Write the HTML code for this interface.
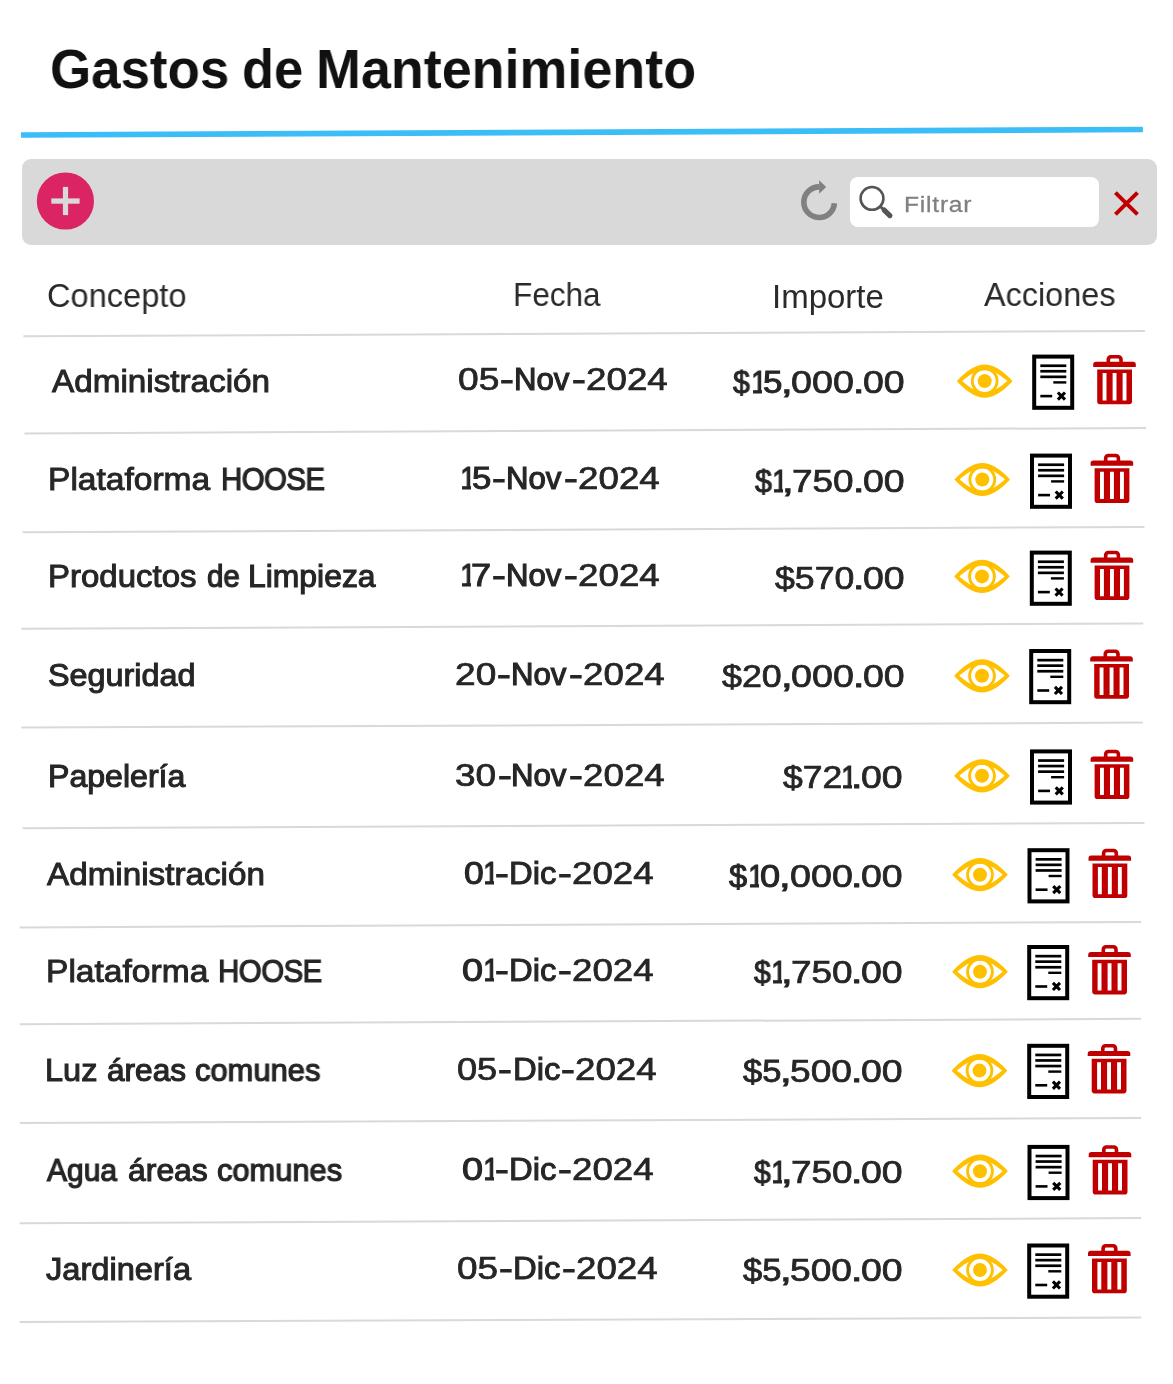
<!DOCTYPE html>
<html lang="es"><head><meta charset="utf-8"><title>Gastos de Mantenimiento</title>
<style>
html,body{margin:0;padding:0;background:#fff;}
body{width:1173px;height:1384px;position:relative;overflow:hidden;font-family:"Liberation Sans",sans-serif;}
h1{margin:0;font-size:inherit;font-weight:inherit;}
.t{position:absolute;display:block;white-space:nowrap;line-height:1;transform-origin:0 0;color:#262626;will-change:transform;}
.ttl{font-weight:700;color:#111;}
.hd{color:#2a2a2a;}
.rw,.dg{-webkit-text-stroke:1px #262626;}
.ph{color:#808080;-webkit-text-stroke:0.3px #808080;}
#bar{position:absolute;left:22.3px;top:159px;width:1135px;height:86px;background:#d9d9d9;border-radius:9px;}
#srch{position:absolute;left:849.5px;top:177.2px;width:249.6px;height:49.7px;background:#fff;border-radius:8px;}
svg.layer{position:absolute;left:0;top:0;pointer-events:none;}
</style></head><body>
<header><h1><span class="t ttl" style="left:49.88px;top:40.60px;font-size:56.0px;transform:scaleX(0.9441);">Gastos</span> <span class="t ttl" style="left:242.20px;top:40.60px;font-size:56.0px;transform:scaleX(0.9355);">de</span> <span class="t ttl" style="left:315.89px;top:40.60px;font-size:56.0px;transform:scaleX(0.9619);">Mantenimiento</span></h1>
<svg class="layer" width="1173" height="1384" viewBox="0 0 1173 1384"><line x1="21" y1="135" x2="1142.9" y2="129.5" stroke="#3BBEF7" stroke-width="5.6"/></svg>
</header>
<div class="toolbar"><div id="bar"></div><div id="srch"></div>
<svg class="layer" width="1173" height="1384" viewBox="0 0 1173 1384">
<g class="btn-agregar"><circle cx="65.4" cy="201" r="28.6" fill="#DB2463"/>
<rect x="51.3" y="198.4" width="28.3" height="5.3" fill="#d9d9d9"/><rect x="62.9" y="186.9" width="5.2" height="28.2" fill="#d9d9d9"/></g>
<g class="btn-recargar"><path d="M834.4,203.2 A15.3,15.3 0 1 1 819.1,186.9" fill="none" stroke="#808080" stroke-width="5.6"/>
<path d="M819.1,180.2 L826.2,187 L819.1,193.7 Z" fill="#808080"/></g>
<g class="ico-buscar"><circle cx="872" cy="198.4" r="11.4" fill="none" stroke="#555" stroke-width="2.6"/>
<path d="M880,206.2 L884,210" stroke="#555" stroke-width="2.8"/>
<path d="M884.2,210.1 L889.9,215.6" stroke="#555" stroke-width="5.2" stroke-linecap="round"/></g>
<g class="btn-limpiar"><path d="M1115.4,192.6 L1137.5,214.4 M1137.5,192.6 L1115.4,214.4" stroke="#C00000" stroke-width="4" fill="none"/></g>
</svg>
<span class="t ph" style="left:903.60px;top:193.69px;font-size:22.4px;transform:scaleX(1.1000);letter-spacing:0.692px;">Filtrar</span></div>
<div class="table">
<div class="thead"><div class="cell"><span class="t hd" style="left:47.10px;top:279.27px;font-size:33.0px;transform:scaleX(0.9873);">Concepto</span></div><div class="cell"><span class="t hd" style="left:513.37px;top:278.47px;font-size:33.0px;transform:scaleX(0.9551);">Fecha</span></div><div class="cell"><span class="t hd" style="left:772.11px;top:279.87px;font-size:33.0px;transform:scaleX(0.9956);">Importe</span></div><div class="cell"><span class="t hd" style="left:983.88px;top:277.97px;font-size:33.0px;transform:scaleX(0.9817);">Acciones</span></div>
<svg class="layer" width="1173" height="1384" viewBox="0 0 1173 1384"><line x1="23.4" y1="336.3" x2="1145" y2="331.0" stroke="#d9d9d9" stroke-width="2"/></svg></div>
<div class="row">
<div class="cell concepto"><span class="t rw" style="left:51.57px;top:365.60px;font-size:31.6px;transform:scaleX(1.0527);-webkit-text-stroke-width:0.95px;">Administración</span></div>
<div class="cell fecha"><span class="t dg" style="left:457.93px;top:365.38px;font-size:30.8px;transform:scaleX(1.2073);-webkit-text-stroke-width:0.72px;">05</span><span class="t dg" style="left:500.18px;top:365.38px;font-size:30.8px;transform:scaleX(1.3500);-webkit-text-stroke-width:1.00px;">-</span><span class="t dg" style="left:514.07px;top:365.38px;font-size:30.8px;transform:scaleX(1.0111);-webkit-text-stroke-width:1.19px;">Nov</span><span class="t dg" style="left:571.63px;top:365.38px;font-size:30.8px;transform:scaleX(1.3500);-webkit-text-stroke-width:1.00px;">-</span><span class="t dg" style="left:585.84px;top:365.38px;font-size:30.8px;transform:scaleX(1.1938);-webkit-text-stroke-width:0.72px;">2024</span></div>
<div class="cell importe"><span class="t dg" style="left:733.32px;top:366.91px;font-size:31.0px;transform:scaleX(0.9755);-webkit-text-stroke-width:1.00px;">$</span><span class="t dg" style="left:750.63px;top:366.91px;font-size:31.0px;transform:scaleX(0.9275);clip-path:inset(0 6.12px 0 2.29px);-webkit-text-stroke-width:1.00px;">1</span><span class="t dg" style="left:762.71px;top:366.91px;font-size:31.0px;transform:scaleX(1.1264);-webkit-text-stroke-width:1.00px;">5</span><span class="t dg" style="left:780.89px;top:366.91px;font-size:31.0px;transform:scaleX(1.3500);-webkit-text-stroke-width:1.00px;">,</span><span class="t dg" style="left:791.37px;top:366.91px;font-size:31.0px;transform:scaleX(1.2147);-webkit-text-stroke-width:0.72px;">000</span><span class="t dg" style="left:852.77px;top:366.91px;font-size:31.0px;transform:scaleX(1.3161);-webkit-text-stroke-width:1.00px;">.</span><span class="t dg" style="left:862.67px;top:366.91px;font-size:31.0px;transform:scaleX(1.2087);-webkit-text-stroke-width:0.72px;">00</span></div>
<div class="cell acciones"><svg class="layer" width="1173" height="1384" viewBox="0 0 1173 1384">
<g class="ico-ver" transform="translate(984.70,381.10)" fill="#FFC000">
<path d="M-26.7,0 C-17.5,-9.8 -8.8,-15.7 0,-15.7 C8.8,-15.7 17.5,-9.8 26.7,0 C17.5,9.8 8.8,15.7 0,15.7 C-8.8,15.7 -17.5,9.8 -26.7,0 Z" stroke="#FFC000" stroke-width="1.8" stroke-linejoin="round"/>
<path d="M-22.7,0 C-17,-4.8 -9,-11.2 0,-11.2 C9,-11.2 17,-4.8 22.7,0 C17,4.8 9,11.2 0,11.2 C-9,11.2 -17,4.8 -22.7,0 Z" fill="#fff"/>
<circle cx="0" cy="0" r="12.4" fill="none" stroke="#FFC000" stroke-width="2.9"/>
<circle cx="0" cy="0" r="7"/>
</g>
<g class="ico-cancelar" transform="translate(1032.20,354.60)">
<rect x="2" y="2" width="38" height="51.2" fill="#fff" stroke="#000" stroke-width="4"/>
<rect x="8.1" y="9.8" width="26" height="2.7"/><rect x="8.1" y="15.3" width="26" height="2.7"/><rect x="8.1" y="20.9" width="26" height="2.7"/>
<rect x="21.1" y="26.6" width="13" height="2.4"/><rect x="8.1" y="40.2" width="11.9" height="2.6"/>
<path d="M25.7,37.9 L32.8,45.0 M32.8,37.9 L25.7,45.0" stroke="#000" stroke-width="3.1" fill="none"/>
</g>
<g class="ico-eliminar" transform="translate(1093.20,354.70)" fill="#C00000">
<path d="M16.9,8.5 V5.2 a1.4,1.4 0 0 1 1.4,-1.4 h6.3 a1.4,1.4 0 0 1 1.4,1.4 V8.5 h3.6 V4.6 a4.3,4.3 0 0 0 -4.3,-4.3 h-7.7 a4.3,4.3 0 0 0 -4.3,4.3 V8.5 Z"/>
<path d="M0,12.3 V9.9 a2.8,2.8 0 0 1 2.8,-2.8 H39.8 a2.8,2.8 0 0 1 2.8,2.8 V12.3 Z"/>
<path fill-rule="evenodd" d="M4,14.9 H38.8 V46.8 a2.8,2.8 0 0 1 -2.8,2.8 H6.8 a2.8,2.8 0 0 1 -2.8,-2.8 Z M9.4,18.4 V45.7 H13.3 V18.4 Z M19.4,18.4 V45.7 H23.3 V18.4 Z M29.4,18.4 V45.7 H33.3 V18.4 Z"/>
</g>
<line x1="24.5" y1="433.4" x2="1146.3" y2="428.0" stroke="#d9d9d9" stroke-width="2"/>
</svg></div>
</div>
<div class="row">
<div class="cell concepto"><span class="t rw" style="left:48.30px;top:464.40px;font-size:31.6px;transform:scaleX(1.0619);-webkit-text-stroke-width:0.92px;">Plataforma</span> <span class="t rw" style="left:221.44px;top:464.40px;font-size:31.6px;transform:scaleX(0.9300);letter-spacing:-0.556px;-webkit-text-stroke-width:1.24px;">HOOSE</span></div>
<div class="cell fecha"><span class="t dg" style="left:459.74px;top:464.08px;font-size:30.8px;transform:scaleX(0.9328);clip-path:inset(0 6.08px 0 2.28px);-webkit-text-stroke-width:1.00px;">1</span><span class="t dg" style="left:471.96px;top:464.08px;font-size:30.8px;transform:scaleX(1.1264);-webkit-text-stroke-width:1.00px;">5</span><span class="t dg" style="left:492.38px;top:464.08px;font-size:30.8px;transform:scaleX(1.3500);-webkit-text-stroke-width:1.00px;">-</span><span class="t dg" style="left:506.27px;top:464.08px;font-size:30.8px;transform:scaleX(1.0111);-webkit-text-stroke-width:1.19px;">Nov</span><span class="t dg" style="left:563.83px;top:464.08px;font-size:30.8px;transform:scaleX(1.3500);-webkit-text-stroke-width:1.00px;">-</span><span class="t dg" style="left:578.04px;top:464.08px;font-size:30.8px;transform:scaleX(1.1938);-webkit-text-stroke-width:0.72px;">2024</span></div>
<div class="cell importe"><span class="t dg" style="left:755.12px;top:466.01px;font-size:31.0px;transform:scaleX(0.9784);-webkit-text-stroke-width:1.00px;">$</span><span class="t dg" style="left:772.48px;top:466.01px;font-size:31.0px;transform:scaleX(0.9275);clip-path:inset(0 6.12px 0 2.29px);-webkit-text-stroke-width:1.00px;">1</span><span class="t dg" style="left:782.39px;top:466.01px;font-size:31.0px;transform:scaleX(1.3500);-webkit-text-stroke-width:1.00px;">,</span><span class="t dg" style="left:792.44px;top:466.01px;font-size:31.0px;transform:scaleX(1.1917);-webkit-text-stroke-width:0.72px;">750</span><span class="t dg" style="left:852.67px;top:466.01px;font-size:31.0px;transform:scaleX(1.3161);-webkit-text-stroke-width:1.00px;">.</span><span class="t dg" style="left:862.57px;top:466.01px;font-size:31.0px;transform:scaleX(1.2087);-webkit-text-stroke-width:0.72px;">00</span></div>
<div class="cell acciones"><svg class="layer" width="1173" height="1384" viewBox="0 0 1173 1384">
<g class="ico-ver" transform="translate(982.30,479.50)" fill="#FFC000">
<path d="M-26.7,0 C-17.5,-9.8 -8.8,-15.7 0,-15.7 C8.8,-15.7 17.5,-9.8 26.7,0 C17.5,9.8 8.8,15.7 0,15.7 C-8.8,15.7 -17.5,9.8 -26.7,0 Z" stroke="#FFC000" stroke-width="1.8" stroke-linejoin="round"/>
<path d="M-22.7,0 C-17,-4.8 -9,-11.2 0,-11.2 C9,-11.2 17,-4.8 22.7,0 C17,4.8 9,11.2 0,11.2 C-9,11.2 -17,4.8 -22.7,0 Z" fill="#fff"/>
<circle cx="0" cy="0" r="12.4" fill="none" stroke="#FFC000" stroke-width="2.9"/>
<circle cx="0" cy="0" r="7"/>
</g>
<g class="ico-cancelar" transform="translate(1030.00,453.60)">
<rect x="2" y="2" width="38" height="51.2" fill="#fff" stroke="#000" stroke-width="4"/>
<rect x="8.1" y="9.8" width="26" height="2.7"/><rect x="8.1" y="15.3" width="26" height="2.7"/><rect x="8.1" y="20.9" width="26" height="2.7"/>
<rect x="21.1" y="26.6" width="13" height="2.4"/><rect x="8.1" y="40.2" width="11.9" height="2.6"/>
<path d="M25.7,37.9 L32.8,45.0 M32.8,37.9 L25.7,45.0" stroke="#000" stroke-width="3.1" fill="none"/>
</g>
<g class="ico-eliminar" transform="translate(1090.60,453.40)" fill="#C00000">
<path d="M16.9,8.5 V5.2 a1.4,1.4 0 0 1 1.4,-1.4 h6.3 a1.4,1.4 0 0 1 1.4,1.4 V8.5 h3.6 V4.6 a4.3,4.3 0 0 0 -4.3,-4.3 h-7.7 a4.3,4.3 0 0 0 -4.3,4.3 V8.5 Z"/>
<path d="M0,12.3 V9.9 a2.8,2.8 0 0 1 2.8,-2.8 H39.8 a2.8,2.8 0 0 1 2.8,2.8 V12.3 Z"/>
<path fill-rule="evenodd" d="M4,14.9 H38.8 V46.8 a2.8,2.8 0 0 1 -2.8,2.8 H6.8 a2.8,2.8 0 0 1 -2.8,-2.8 Z M9.4,18.4 V45.7 H13.3 V18.4 Z M19.4,18.4 V45.7 H23.3 V18.4 Z M29.4,18.4 V45.7 H33.3 V18.4 Z"/>
</g>
<line x1="22.6" y1="532.3" x2="1144.4" y2="527.0" stroke="#d9d9d9" stroke-width="2"/>
</svg></div>
</div>
<div class="row">
<div class="cell concepto"><span class="t rw" style="left:48.27px;top:561.30px;font-size:31.6px;transform:scaleX(1.0438);-webkit-text-stroke-width:0.99px;">Productos</span> <span class="t rw" style="left:206.59px;top:561.30px;font-size:31.6px;transform:scaleX(0.9341);-webkit-text-stroke-width:1.24px;">de</span> <span class="t rw" style="left:247.92px;top:561.30px;font-size:31.6px;transform:scaleX(1.0088);-webkit-text-stroke-width:1.12px;">Limpieza</span></div>
<div class="cell fecha"><span class="t dg" style="left:459.74px;top:561.08px;font-size:30.8px;transform:scaleX(0.9328);clip-path:inset(0 6.08px 0 2.28px);-webkit-text-stroke-width:1.00px;">1</span><span class="t dg" style="left:471.48px;top:561.08px;font-size:30.8px;transform:scaleX(1.1733);-webkit-text-stroke-width:1.00px;">7</span><span class="t dg" style="left:492.38px;top:561.08px;font-size:30.8px;transform:scaleX(1.3500);-webkit-text-stroke-width:1.00px;">-</span><span class="t dg" style="left:506.27px;top:561.08px;font-size:30.8px;transform:scaleX(1.0111);-webkit-text-stroke-width:1.19px;">Nov</span><span class="t dg" style="left:563.83px;top:561.08px;font-size:30.8px;transform:scaleX(1.3500);-webkit-text-stroke-width:1.00px;">-</span><span class="t dg" style="left:578.04px;top:561.08px;font-size:30.8px;transform:scaleX(1.1938);-webkit-text-stroke-width:0.72px;">2024</span></div>
<div class="cell importe"><span class="t dg" style="left:774.68px;top:563.01px;font-size:31.0px;transform:scaleX(1.1506);-webkit-text-stroke-width:0.72px;">$570</span><span class="t dg" style="left:852.67px;top:563.01px;font-size:31.0px;transform:scaleX(1.3161);-webkit-text-stroke-width:1.00px;">.</span><span class="t dg" style="left:862.57px;top:563.01px;font-size:31.0px;transform:scaleX(1.2087);-webkit-text-stroke-width:0.72px;">00</span></div>
<div class="cell acciones"><svg class="layer" width="1173" height="1384" viewBox="0 0 1173 1384">
<g class="ico-ver" transform="translate(982.00,576.40)" fill="#FFC000">
<path d="M-26.7,0 C-17.5,-9.8 -8.8,-15.7 0,-15.7 C8.8,-15.7 17.5,-9.8 26.7,0 C17.5,9.8 8.8,15.7 0,15.7 C-8.8,15.7 -17.5,9.8 -26.7,0 Z" stroke="#FFC000" stroke-width="1.8" stroke-linejoin="round"/>
<path d="M-22.7,0 C-17,-4.8 -9,-11.2 0,-11.2 C9,-11.2 17,-4.8 22.7,0 C17,4.8 9,11.2 0,11.2 C-9,11.2 -17,4.8 -22.7,0 Z" fill="#fff"/>
<circle cx="0" cy="0" r="12.4" fill="none" stroke="#FFC000" stroke-width="2.9"/>
<circle cx="0" cy="0" r="7"/>
</g>
<g class="ico-cancelar" transform="translate(1029.80,550.60)">
<rect x="2" y="2" width="38" height="51.2" fill="#fff" stroke="#000" stroke-width="4"/>
<rect x="8.1" y="9.8" width="26" height="2.7"/><rect x="8.1" y="15.3" width="26" height="2.7"/><rect x="8.1" y="20.9" width="26" height="2.7"/>
<rect x="21.1" y="26.6" width="13" height="2.4"/><rect x="8.1" y="40.2" width="11.9" height="2.6"/>
<path d="M25.7,37.9 L32.8,45.0 M32.8,37.9 L25.7,45.0" stroke="#000" stroke-width="3.1" fill="none"/>
</g>
<g class="ico-eliminar" transform="translate(1090.60,550.50)" fill="#C00000">
<path d="M16.9,8.5 V5.2 a1.4,1.4 0 0 1 1.4,-1.4 h6.3 a1.4,1.4 0 0 1 1.4,1.4 V8.5 h3.6 V4.6 a4.3,4.3 0 0 0 -4.3,-4.3 h-7.7 a4.3,4.3 0 0 0 -4.3,4.3 V8.5 Z"/>
<path d="M0,12.3 V9.9 a2.8,2.8 0 0 1 2.8,-2.8 H39.8 a2.8,2.8 0 0 1 2.8,2.8 V12.3 Z"/>
<path fill-rule="evenodd" d="M4,14.9 H38.8 V46.8 a2.8,2.8 0 0 1 -2.8,2.8 H6.8 a2.8,2.8 0 0 1 -2.8,-2.8 Z M9.4,18.4 V45.7 H13.3 V18.4 Z M19.4,18.4 V45.7 H23.3 V18.4 Z M29.4,18.4 V45.7 H33.3 V18.4 Z"/>
</g>
<line x1="21.3" y1="628.8" x2="1143.3" y2="623.5" stroke="#d9d9d9" stroke-width="2"/>
</svg></div>
</div>
<div class="row">
<div class="cell concepto"><span class="t rw" style="left:47.71px;top:660.40px;font-size:31.6px;transform:scaleX(1.0243);-webkit-text-stroke-width:1.06px;">Seguridad</span></div>
<div class="cell fecha"><span class="t dg" style="left:455.03px;top:660.38px;font-size:30.8px;transform:scaleX(1.2042);-webkit-text-stroke-width:0.72px;">20</span><span class="t dg" style="left:497.18px;top:660.38px;font-size:30.8px;transform:scaleX(1.3500);-webkit-text-stroke-width:1.00px;">-</span><span class="t dg" style="left:511.07px;top:660.38px;font-size:30.8px;transform:scaleX(1.0111);-webkit-text-stroke-width:1.19px;">Nov</span><span class="t dg" style="left:568.63px;top:660.38px;font-size:30.8px;transform:scaleX(1.3500);-webkit-text-stroke-width:1.00px;">-</span><span class="t dg" style="left:582.84px;top:660.38px;font-size:30.8px;transform:scaleX(1.1938);-webkit-text-stroke-width:0.72px;">2024</span></div>
<div class="cell importe"><span class="t dg" style="left:722.28px;top:661.11px;font-size:31.0px;transform:scaleX(1.1555);-webkit-text-stroke-width:0.72px;">$20</span><span class="t dg" style="left:780.79px;top:661.11px;font-size:31.0px;transform:scaleX(1.3500);-webkit-text-stroke-width:1.00px;">,</span><span class="t dg" style="left:791.27px;top:661.11px;font-size:31.0px;transform:scaleX(1.2147);-webkit-text-stroke-width:0.72px;">000</span><span class="t dg" style="left:852.67px;top:661.11px;font-size:31.0px;transform:scaleX(1.3161);-webkit-text-stroke-width:1.00px;">.</span><span class="t dg" style="left:862.57px;top:661.11px;font-size:31.0px;transform:scaleX(1.2087);-webkit-text-stroke-width:0.72px;">00</span></div>
<div class="cell acciones"><svg class="layer" width="1173" height="1384" viewBox="0 0 1173 1384">
<g class="ico-ver" transform="translate(982.00,675.80)" fill="#FFC000">
<path d="M-26.7,0 C-17.5,-9.8 -8.8,-15.7 0,-15.7 C8.8,-15.7 17.5,-9.8 26.7,0 C17.5,9.8 8.8,15.7 0,15.7 C-8.8,15.7 -17.5,9.8 -26.7,0 Z" stroke="#FFC000" stroke-width="1.8" stroke-linejoin="round"/>
<path d="M-22.7,0 C-17,-4.8 -9,-11.2 0,-11.2 C9,-11.2 17,-4.8 22.7,0 C17,4.8 9,11.2 0,11.2 C-9,11.2 -17,4.8 -22.7,0 Z" fill="#fff"/>
<circle cx="0" cy="0" r="12.4" fill="none" stroke="#FFC000" stroke-width="2.9"/>
<circle cx="0" cy="0" r="7"/>
</g>
<g class="ico-cancelar" transform="translate(1029.20,649.00)">
<rect x="2" y="2" width="38" height="51.2" fill="#fff" stroke="#000" stroke-width="4"/>
<rect x="8.1" y="9.8" width="26" height="2.7"/><rect x="8.1" y="15.3" width="26" height="2.7"/><rect x="8.1" y="20.9" width="26" height="2.7"/>
<rect x="21.1" y="26.6" width="13" height="2.4"/><rect x="8.1" y="40.2" width="11.9" height="2.6"/>
<path d="M25.7,37.9 L32.8,45.0 M32.8,37.9 L25.7,45.0" stroke="#000" stroke-width="3.1" fill="none"/>
</g>
<g class="ico-eliminar" transform="translate(1090.20,649.20)" fill="#C00000">
<path d="M16.9,8.5 V5.2 a1.4,1.4 0 0 1 1.4,-1.4 h6.3 a1.4,1.4 0 0 1 1.4,1.4 V8.5 h3.6 V4.6 a4.3,4.3 0 0 0 -4.3,-4.3 h-7.7 a4.3,4.3 0 0 0 -4.3,4.3 V8.5 Z"/>
<path d="M0,12.3 V9.9 a2.8,2.8 0 0 1 2.8,-2.8 H39.8 a2.8,2.8 0 0 1 2.8,2.8 V12.3 Z"/>
<path fill-rule="evenodd" d="M4,14.9 H38.8 V46.8 a2.8,2.8 0 0 1 -2.8,2.8 H6.8 a2.8,2.8 0 0 1 -2.8,-2.8 Z M9.4,18.4 V45.7 H13.3 V18.4 Z M19.4,18.4 V45.7 H23.3 V18.4 Z M29.4,18.4 V45.7 H33.3 V18.4 Z"/>
</g>
<line x1="21.3" y1="727.6" x2="1142.9" y2="722.6" stroke="#d9d9d9" stroke-width="2"/>
</svg></div>
</div>
<div class="row">
<div class="cell concepto"><span class="t rw" style="left:48.29px;top:760.60px;font-size:31.6px;transform:scaleX(1.0156);-webkit-text-stroke-width:1.09px;">Papelería</span></div>
<div class="cell fecha"><span class="t dg" style="left:455.48px;top:760.68px;font-size:30.8px;transform:scaleX(1.2026);-webkit-text-stroke-width:0.72px;">30</span><span class="t dg" style="left:497.58px;top:760.68px;font-size:30.8px;transform:scaleX(1.3500);-webkit-text-stroke-width:1.00px;">-</span><span class="t dg" style="left:511.47px;top:760.68px;font-size:30.8px;transform:scaleX(1.0111);-webkit-text-stroke-width:1.19px;">Nov</span><span class="t dg" style="left:569.03px;top:760.68px;font-size:30.8px;transform:scaleX(1.3500);-webkit-text-stroke-width:1.00px;">-</span><span class="t dg" style="left:583.24px;top:760.68px;font-size:30.8px;transform:scaleX(1.1938);-webkit-text-stroke-width:0.72px;">2024</span></div>
<div class="cell importe"><span class="t dg" style="left:782.88px;top:761.71px;font-size:31.0px;transform:scaleX(1.1452);-webkit-text-stroke-width:0.72px;">$72</span><span class="t dg" style="left:841.18px;top:761.71px;font-size:31.0px;transform:scaleX(0.9275);clip-path:inset(0 6.12px 0 2.29px);-webkit-text-stroke-width:1.00px;">1</span><span class="t dg" style="left:850.97px;top:761.71px;font-size:31.0px;transform:scaleX(1.3161);-webkit-text-stroke-width:1.00px;">.</span><span class="t dg" style="left:860.87px;top:761.71px;font-size:31.0px;transform:scaleX(1.2087);-webkit-text-stroke-width:0.72px;">00</span></div>
<div class="cell acciones"><svg class="layer" width="1173" height="1384" viewBox="0 0 1173 1384">
<g class="ico-ver" transform="translate(982.00,775.80)" fill="#FFC000">
<path d="M-26.7,0 C-17.5,-9.8 -8.8,-15.7 0,-15.7 C8.8,-15.7 17.5,-9.8 26.7,0 C17.5,9.8 8.8,15.7 0,15.7 C-8.8,15.7 -17.5,9.8 -26.7,0 Z" stroke="#FFC000" stroke-width="1.8" stroke-linejoin="round"/>
<path d="M-22.7,0 C-17,-4.8 -9,-11.2 0,-11.2 C9,-11.2 17,-4.8 22.7,0 C17,4.8 9,11.2 0,11.2 C-9,11.2 -17,4.8 -22.7,0 Z" fill="#fff"/>
<circle cx="0" cy="0" r="12.4" fill="none" stroke="#FFC000" stroke-width="2.9"/>
<circle cx="0" cy="0" r="7"/>
</g>
<g class="ico-cancelar" transform="translate(1030.00,749.40)">
<rect x="2" y="2" width="38" height="51.2" fill="#fff" stroke="#000" stroke-width="4"/>
<rect x="8.1" y="9.8" width="26" height="2.7"/><rect x="8.1" y="15.3" width="26" height="2.7"/><rect x="8.1" y="20.9" width="26" height="2.7"/>
<rect x="21.1" y="26.6" width="13" height="2.4"/><rect x="8.1" y="40.2" width="11.9" height="2.6"/>
<path d="M25.7,37.9 L32.8,45.0 M32.8,37.9 L25.7,45.0" stroke="#000" stroke-width="3.1" fill="none"/>
</g>
<g class="ico-eliminar" transform="translate(1090.60,749.40)" fill="#C00000">
<path d="M16.9,8.5 V5.2 a1.4,1.4 0 0 1 1.4,-1.4 h6.3 a1.4,1.4 0 0 1 1.4,1.4 V8.5 h3.6 V4.6 a4.3,4.3 0 0 0 -4.3,-4.3 h-7.7 a4.3,4.3 0 0 0 -4.3,4.3 V8.5 Z"/>
<path d="M0,12.3 V9.9 a2.8,2.8 0 0 1 2.8,-2.8 H39.8 a2.8,2.8 0 0 1 2.8,2.8 V12.3 Z"/>
<path fill-rule="evenodd" d="M4,14.9 H38.8 V46.8 a2.8,2.8 0 0 1 -2.8,2.8 H6.8 a2.8,2.8 0 0 1 -2.8,-2.8 Z M9.4,18.4 V45.7 H13.3 V18.4 Z M19.4,18.4 V45.7 H23.3 V18.4 Z M29.4,18.4 V45.7 H33.3 V18.4 Z"/>
</g>
<line x1="22.6" y1="828.3" x2="1144.4" y2="823.0" stroke="#d9d9d9" stroke-width="2"/>
</svg></div>
</div>
<div class="row">
<div class="cell concepto"><span class="t rw" style="left:46.57px;top:859.40px;font-size:31.6px;transform:scaleX(1.0517);-webkit-text-stroke-width:0.96px;">Administración</span></div>
<div class="cell fecha"><span class="t dg" style="left:463.64px;top:859.28px;font-size:30.8px;transform:scaleX(1.1520);-webkit-text-stroke-width:1.00px;">0</span><span class="t dg" style="left:483.14px;top:859.28px;font-size:30.8px;transform:scaleX(0.9328);clip-path:inset(0 6.08px 0 2.28px);-webkit-text-stroke-width:1.00px;">1</span><span class="t dg" style="left:495.28px;top:859.28px;font-size:30.8px;transform:scaleX(1.3500);-webkit-text-stroke-width:1.00px;">-</span><span class="t dg" style="left:509.46px;top:859.28px;font-size:30.8px;transform:scaleX(1.0664);-webkit-text-stroke-width:0.98px;">Dic</span><span class="t dg" style="left:557.88px;top:859.28px;font-size:30.8px;transform:scaleX(1.3500);-webkit-text-stroke-width:1.00px;">-</span><span class="t dg" style="left:571.94px;top:859.28px;font-size:30.8px;transform:scaleX(1.1923);-webkit-text-stroke-width:0.72px;">2024</span></div>
<div class="cell importe"><span class="t dg" style="left:729.43px;top:860.71px;font-size:31.0px;transform:scaleX(1.0504);-webkit-text-stroke-width:1.00px;">$</span><span class="t dg" style="left:748.03px;top:860.71px;font-size:31.0px;transform:scaleX(0.9275);clip-path:inset(0 6.12px 0 2.29px);-webkit-text-stroke-width:1.00px;">1</span><span class="t dg" style="left:760.07px;top:860.71px;font-size:31.0px;transform:scaleX(1.1683);-webkit-text-stroke-width:1.00px;">0</span><span class="t dg" style="left:779.09px;top:860.71px;font-size:31.0px;transform:scaleX(1.3500);-webkit-text-stroke-width:1.00px;">,</span><span class="t dg" style="left:789.57px;top:860.71px;font-size:31.0px;transform:scaleX(1.2147);-webkit-text-stroke-width:0.72px;">000</span><span class="t dg" style="left:850.97px;top:860.71px;font-size:31.0px;transform:scaleX(1.3161);-webkit-text-stroke-width:1.00px;">.</span><span class="t dg" style="left:860.87px;top:860.71px;font-size:31.0px;transform:scaleX(1.2087);-webkit-text-stroke-width:0.72px;">00</span></div>
<div class="cell acciones"><svg class="layer" width="1173" height="1384" viewBox="0 0 1173 1384">
<g class="ico-ver" transform="translate(980.00,874.70)" fill="#FFC000">
<path d="M-26.7,0 C-17.5,-9.8 -8.8,-15.7 0,-15.7 C8.8,-15.7 17.5,-9.8 26.7,0 C17.5,9.8 8.8,15.7 0,15.7 C-8.8,15.7 -17.5,9.8 -26.7,0 Z" stroke="#FFC000" stroke-width="1.8" stroke-linejoin="round"/>
<path d="M-22.7,0 C-17,-4.8 -9,-11.2 0,-11.2 C9,-11.2 17,-4.8 22.7,0 C17,4.8 9,11.2 0,11.2 C-9,11.2 -17,4.8 -22.7,0 Z" fill="#fff"/>
<circle cx="0" cy="0" r="12.4" fill="none" stroke="#FFC000" stroke-width="2.9"/>
<circle cx="0" cy="0" r="7"/>
</g>
<g class="ico-cancelar" transform="translate(1027.50,848.20)">
<rect x="2" y="2" width="38" height="51.2" fill="#fff" stroke="#000" stroke-width="4"/>
<rect x="8.1" y="9.8" width="26" height="2.7"/><rect x="8.1" y="15.3" width="26" height="2.7"/><rect x="8.1" y="20.9" width="26" height="2.7"/>
<rect x="21.1" y="26.6" width="13" height="2.4"/><rect x="8.1" y="40.2" width="11.9" height="2.6"/>
<path d="M25.7,37.9 L32.8,45.0 M32.8,37.9 L25.7,45.0" stroke="#000" stroke-width="3.1" fill="none"/>
</g>
<g class="ico-eliminar" transform="translate(1088.50,848.50)" fill="#C00000">
<path d="M16.9,8.5 V5.2 a1.4,1.4 0 0 1 1.4,-1.4 h6.3 a1.4,1.4 0 0 1 1.4,1.4 V8.5 h3.6 V4.6 a4.3,4.3 0 0 0 -4.3,-4.3 h-7.7 a4.3,4.3 0 0 0 -4.3,4.3 V8.5 Z"/>
<path d="M0,12.3 V9.9 a2.8,2.8 0 0 1 2.8,-2.8 H39.8 a2.8,2.8 0 0 1 2.8,2.8 V12.3 Z"/>
<path fill-rule="evenodd" d="M4,14.9 H38.8 V46.8 a2.8,2.8 0 0 1 -2.8,2.8 H6.8 a2.8,2.8 0 0 1 -2.8,-2.8 Z M9.4,18.4 V45.7 H13.3 V18.4 Z M19.4,18.4 V45.7 H23.3 V18.4 Z M29.4,18.4 V45.7 H33.3 V18.4 Z"/>
</g>
<line x1="19.7" y1="927.4" x2="1141.2" y2="922.0" stroke="#d9d9d9" stroke-width="2"/>
</svg></div>
</div>
<div class="row">
<div class="cell concepto"><span class="t rw" style="left:45.50px;top:955.90px;font-size:31.6px;transform:scaleX(1.0626);-webkit-text-stroke-width:0.92px;">Plataforma</span> <span class="t rw" style="left:218.04px;top:955.90px;font-size:31.6px;transform:scaleX(0.9300);letter-spacing:-0.503px;-webkit-text-stroke-width:1.24px;">HOOSE</span></div>
<div class="cell fecha"><span class="t dg" style="left:462.38px;top:956.18px;font-size:30.8px;transform:scaleX(1.2288);-webkit-text-stroke-width:1.00px;">0</span><span class="t dg" style="left:483.14px;top:956.18px;font-size:30.8px;transform:scaleX(0.9328);clip-path:inset(0 6.08px 0 2.28px);-webkit-text-stroke-width:1.00px;">1</span><span class="t dg" style="left:495.28px;top:956.18px;font-size:30.8px;transform:scaleX(1.3500);-webkit-text-stroke-width:1.00px;">-</span><span class="t dg" style="left:509.46px;top:956.18px;font-size:30.8px;transform:scaleX(1.0664);-webkit-text-stroke-width:0.98px;">Dic</span><span class="t dg" style="left:557.88px;top:956.18px;font-size:30.8px;transform:scaleX(1.3500);-webkit-text-stroke-width:1.00px;">-</span><span class="t dg" style="left:571.94px;top:956.18px;font-size:30.8px;transform:scaleX(1.1923);-webkit-text-stroke-width:0.72px;">2024</span></div>
<div class="cell importe"><span class="t dg" style="left:753.52px;top:957.21px;font-size:31.0px;transform:scaleX(0.9727);-webkit-text-stroke-width:1.00px;">$</span><span class="t dg" style="left:770.78px;top:957.21px;font-size:31.0px;transform:scaleX(0.9275);clip-path:inset(0 6.12px 0 2.29px);-webkit-text-stroke-width:1.00px;">1</span><span class="t dg" style="left:780.69px;top:957.21px;font-size:31.0px;transform:scaleX(1.3500);-webkit-text-stroke-width:1.00px;">,</span><span class="t dg" style="left:790.74px;top:957.21px;font-size:31.0px;transform:scaleX(1.1917);-webkit-text-stroke-width:0.72px;">750</span><span class="t dg" style="left:850.97px;top:957.21px;font-size:31.0px;transform:scaleX(1.3161);-webkit-text-stroke-width:1.00px;">.</span><span class="t dg" style="left:860.87px;top:957.21px;font-size:31.0px;transform:scaleX(1.2087);-webkit-text-stroke-width:0.72px;">00</span></div>
<div class="cell acciones"><svg class="layer" width="1173" height="1384" viewBox="0 0 1173 1384">
<g class="ico-ver" transform="translate(980.00,971.70)" fill="#FFC000">
<path d="M-26.7,0 C-17.5,-9.8 -8.8,-15.7 0,-15.7 C8.8,-15.7 17.5,-9.8 26.7,0 C17.5,9.8 8.8,15.7 0,15.7 C-8.8,15.7 -17.5,9.8 -26.7,0 Z" stroke="#FFC000" stroke-width="1.8" stroke-linejoin="round"/>
<path d="M-22.7,0 C-17,-4.8 -9,-11.2 0,-11.2 C9,-11.2 17,-4.8 22.7,0 C17,4.8 9,11.2 0,11.2 C-9,11.2 -17,4.8 -22.7,0 Z" fill="#fff"/>
<circle cx="0" cy="0" r="12.4" fill="none" stroke="#FFC000" stroke-width="2.9"/>
<circle cx="0" cy="0" r="7"/>
</g>
<g class="ico-cancelar" transform="translate(1027.20,945.00)">
<rect x="2" y="2" width="38" height="51.2" fill="#fff" stroke="#000" stroke-width="4"/>
<rect x="8.1" y="9.8" width="26" height="2.7"/><rect x="8.1" y="15.3" width="26" height="2.7"/><rect x="8.1" y="20.9" width="26" height="2.7"/>
<rect x="21.1" y="26.6" width="13" height="2.4"/><rect x="8.1" y="40.2" width="11.9" height="2.6"/>
<path d="M25.7,37.9 L32.8,45.0 M32.8,37.9 L25.7,45.0" stroke="#000" stroke-width="3.1" fill="none"/>
</g>
<g class="ico-eliminar" transform="translate(1088.20,944.80)" fill="#C00000">
<path d="M16.9,8.5 V5.2 a1.4,1.4 0 0 1 1.4,-1.4 h6.3 a1.4,1.4 0 0 1 1.4,1.4 V8.5 h3.6 V4.6 a4.3,4.3 0 0 0 -4.3,-4.3 h-7.7 a4.3,4.3 0 0 0 -4.3,4.3 V8.5 Z"/>
<path d="M0,12.3 V9.9 a2.8,2.8 0 0 1 2.8,-2.8 H39.8 a2.8,2.8 0 0 1 2.8,2.8 V12.3 Z"/>
<path fill-rule="evenodd" d="M4,14.9 H38.8 V46.8 a2.8,2.8 0 0 1 -2.8,2.8 H6.8 a2.8,2.8 0 0 1 -2.8,-2.8 Z M9.4,18.4 V45.7 H13.3 V18.4 Z M19.4,18.4 V45.7 H23.3 V18.4 Z M29.4,18.4 V45.7 H33.3 V18.4 Z"/>
</g>
<line x1="19.7" y1="1024.2" x2="1141.2" y2="1018.8" stroke="#d9d9d9" stroke-width="2"/>
</svg></div>
</div>
<div class="row">
<div class="cell concepto"><span class="t rw" style="left:45.13px;top:1055.40px;font-size:31.6px;transform:scaleX(1.0295);-webkit-text-stroke-width:1.04px;">Luz</span> <span class="t rw" style="left:106.91px;top:1055.40px;font-size:31.6px;transform:scaleX(0.9979);-webkit-text-stroke-width:1.17px;">áreas</span> <span class="t rw" style="left:195.36px;top:1055.40px;font-size:31.6px;transform:scaleX(0.9782);-webkit-text-stroke-width:1.24px;">comunes</span></div>
<div class="cell fecha"><span class="t dg" style="left:457.36px;top:1054.78px;font-size:30.8px;transform:scaleX(1.1734);-webkit-text-stroke-width:0.72px;">05</span><span class="t dg" style="left:498.48px;top:1054.78px;font-size:30.8px;transform:scaleX(1.3500);-webkit-text-stroke-width:1.00px;">-</span><span class="t dg" style="left:512.66px;top:1054.78px;font-size:30.8px;transform:scaleX(1.0664);-webkit-text-stroke-width:0.98px;">Dic</span><span class="t dg" style="left:561.08px;top:1054.78px;font-size:30.8px;transform:scaleX(1.3500);-webkit-text-stroke-width:1.00px;">-</span><span class="t dg" style="left:575.14px;top:1054.78px;font-size:30.8px;transform:scaleX(1.1923);-webkit-text-stroke-width:0.72px;">2024</span></div>
<div class="cell importe"><span class="t dg" style="left:742.83px;top:1055.81px;font-size:31.0px;transform:scaleX(1.1133);-webkit-text-stroke-width:0.80px;">$5</span><span class="t dg" style="left:779.89px;top:1055.81px;font-size:31.0px;transform:scaleX(1.3500);-webkit-text-stroke-width:1.00px;">,</span><span class="t dg" style="left:790.38px;top:1055.81px;font-size:31.0px;transform:scaleX(1.1987);-webkit-text-stroke-width:0.72px;">500</span><span class="t dg" style="left:850.97px;top:1055.81px;font-size:31.0px;transform:scaleX(1.3161);-webkit-text-stroke-width:1.00px;">.</span><span class="t dg" style="left:860.87px;top:1055.81px;font-size:31.0px;transform:scaleX(1.2087);-webkit-text-stroke-width:0.72px;">00</span></div>
<div class="cell acciones"><svg class="layer" width="1173" height="1384" viewBox="0 0 1173 1384">
<g class="ico-ver" transform="translate(979.50,1070.60)" fill="#FFC000">
<path d="M-26.7,0 C-17.5,-9.8 -8.8,-15.7 0,-15.7 C8.8,-15.7 17.5,-9.8 26.7,0 C17.5,9.8 8.8,15.7 0,15.7 C-8.8,15.7 -17.5,9.8 -26.7,0 Z" stroke="#FFC000" stroke-width="1.8" stroke-linejoin="round"/>
<path d="M-22.7,0 C-17,-4.8 -9,-11.2 0,-11.2 C9,-11.2 17,-4.8 22.7,0 C17,4.8 9,11.2 0,11.2 C-9,11.2 -17,4.8 -22.7,0 Z" fill="#fff"/>
<circle cx="0" cy="0" r="12.4" fill="none" stroke="#FFC000" stroke-width="2.9"/>
<circle cx="0" cy="0" r="7"/>
</g>
<g class="ico-cancelar" transform="translate(1027.20,1043.80)">
<rect x="2" y="2" width="38" height="51.2" fill="#fff" stroke="#000" stroke-width="4"/>
<rect x="8.1" y="9.8" width="26" height="2.7"/><rect x="8.1" y="15.3" width="26" height="2.7"/><rect x="8.1" y="20.9" width="26" height="2.7"/>
<rect x="21.1" y="26.6" width="13" height="2.4"/><rect x="8.1" y="40.2" width="11.9" height="2.6"/>
<path d="M25.7,37.9 L32.8,45.0 M32.8,37.9 L25.7,45.0" stroke="#000" stroke-width="3.1" fill="none"/>
</g>
<g class="ico-eliminar" transform="translate(1087.70,1043.80)" fill="#C00000">
<path d="M16.9,8.5 V5.2 a1.4,1.4 0 0 1 1.4,-1.4 h6.3 a1.4,1.4 0 0 1 1.4,1.4 V8.5 h3.6 V4.6 a4.3,4.3 0 0 0 -4.3,-4.3 h-7.7 a4.3,4.3 0 0 0 -4.3,4.3 V8.5 Z"/>
<path d="M0,12.3 V9.9 a2.8,2.8 0 0 1 2.8,-2.8 H39.8 a2.8,2.8 0 0 1 2.8,2.8 V12.3 Z"/>
<path fill-rule="evenodd" d="M4,14.9 H38.8 V46.8 a2.8,2.8 0 0 1 -2.8,2.8 H6.8 a2.8,2.8 0 0 1 -2.8,-2.8 Z M9.4,18.4 V45.7 H13.3 V18.4 Z M19.4,18.4 V45.7 H23.3 V18.4 Z M29.4,18.4 V45.7 H33.3 V18.4 Z"/>
</g>
<line x1="19.7" y1="1123.1" x2="1141.2" y2="1117.9" stroke="#d9d9d9" stroke-width="2"/>
</svg></div>
</div>
<div class="row">
<div class="cell concepto"><span class="t rw" style="left:47.47px;top:1154.70px;font-size:31.6px;transform:scaleX(0.9484);-webkit-text-stroke-width:1.24px;">Agua</span> <span class="t rw" style="left:128.07px;top:1154.70px;font-size:31.6px;transform:scaleX(1.0101);-webkit-text-stroke-width:1.12px;">áreas</span> <span class="t rw" style="left:217.46px;top:1154.70px;font-size:31.6px;transform:scaleX(0.9758);-webkit-text-stroke-width:1.24px;">comunes</span></div>
<div class="cell fecha"><span class="t dg" style="left:462.38px;top:1155.38px;font-size:30.8px;transform:scaleX(1.2288);-webkit-text-stroke-width:1.00px;">0</span><span class="t dg" style="left:483.14px;top:1155.38px;font-size:30.8px;transform:scaleX(0.9328);clip-path:inset(0 6.08px 0 2.28px);-webkit-text-stroke-width:1.00px;">1</span><span class="t dg" style="left:495.28px;top:1155.38px;font-size:30.8px;transform:scaleX(1.3500);-webkit-text-stroke-width:1.00px;">-</span><span class="t dg" style="left:509.46px;top:1155.38px;font-size:30.8px;transform:scaleX(1.0664);-webkit-text-stroke-width:0.98px;">Dic</span><span class="t dg" style="left:557.88px;top:1155.38px;font-size:30.8px;transform:scaleX(1.3500);-webkit-text-stroke-width:1.00px;">-</span><span class="t dg" style="left:571.94px;top:1155.38px;font-size:30.8px;transform:scaleX(1.1923);-webkit-text-stroke-width:0.72px;">2024</span></div>
<div class="cell importe"><span class="t dg" style="left:753.52px;top:1156.51px;font-size:31.0px;transform:scaleX(0.9727);-webkit-text-stroke-width:1.00px;">$</span><span class="t dg" style="left:770.78px;top:1156.51px;font-size:31.0px;transform:scaleX(0.9275);clip-path:inset(0 6.12px 0 2.29px);-webkit-text-stroke-width:1.00px;">1</span><span class="t dg" style="left:780.69px;top:1156.51px;font-size:31.0px;transform:scaleX(1.3500);-webkit-text-stroke-width:1.00px;">,</span><span class="t dg" style="left:790.74px;top:1156.51px;font-size:31.0px;transform:scaleX(1.1917);-webkit-text-stroke-width:0.72px;">750</span><span class="t dg" style="left:850.97px;top:1156.51px;font-size:31.0px;transform:scaleX(1.3161);-webkit-text-stroke-width:1.00px;">.</span><span class="t dg" style="left:860.87px;top:1156.51px;font-size:31.0px;transform:scaleX(1.2087);-webkit-text-stroke-width:0.72px;">00</span></div>
<div class="cell acciones"><svg class="layer" width="1173" height="1384" viewBox="0 0 1173 1384">
<g class="ico-ver" transform="translate(980.00,1171.20)" fill="#FFC000">
<path d="M-26.7,0 C-17.5,-9.8 -8.8,-15.7 0,-15.7 C8.8,-15.7 17.5,-9.8 26.7,0 C17.5,9.8 8.8,15.7 0,15.7 C-8.8,15.7 -17.5,9.8 -26.7,0 Z" stroke="#FFC000" stroke-width="1.8" stroke-linejoin="round"/>
<path d="M-22.7,0 C-17,-4.8 -9,-11.2 0,-11.2 C9,-11.2 17,-4.8 22.7,0 C17,4.8 9,11.2 0,11.2 C-9,11.2 -17,4.8 -22.7,0 Z" fill="#fff"/>
<circle cx="0" cy="0" r="12.4" fill="none" stroke="#FFC000" stroke-width="2.9"/>
<circle cx="0" cy="0" r="7"/>
</g>
<g class="ico-cancelar" transform="translate(1027.50,1144.90)">
<rect x="2" y="2" width="38" height="51.2" fill="#fff" stroke="#000" stroke-width="4"/>
<rect x="8.1" y="9.8" width="26" height="2.7"/><rect x="8.1" y="15.3" width="26" height="2.7"/><rect x="8.1" y="20.9" width="26" height="2.7"/>
<rect x="21.1" y="26.6" width="13" height="2.4"/><rect x="8.1" y="40.2" width="11.9" height="2.6"/>
<path d="M25.7,37.9 L32.8,45.0 M32.8,37.9 L25.7,45.0" stroke="#000" stroke-width="3.1" fill="none"/>
</g>
<g class="ico-eliminar" transform="translate(1088.70,1144.90)" fill="#C00000">
<path d="M16.9,8.5 V5.2 a1.4,1.4 0 0 1 1.4,-1.4 h6.3 a1.4,1.4 0 0 1 1.4,1.4 V8.5 h3.6 V4.6 a4.3,4.3 0 0 0 -4.3,-4.3 h-7.7 a4.3,4.3 0 0 0 -4.3,4.3 V8.5 Z"/>
<path d="M0,12.3 V9.9 a2.8,2.8 0 0 1 2.8,-2.8 H39.8 a2.8,2.8 0 0 1 2.8,2.8 V12.3 Z"/>
<path fill-rule="evenodd" d="M4,14.9 H38.8 V46.8 a2.8,2.8 0 0 1 -2.8,2.8 H6.8 a2.8,2.8 0 0 1 -2.8,-2.8 Z M9.4,18.4 V45.7 H13.3 V18.4 Z M19.4,18.4 V45.7 H23.3 V18.4 Z M29.4,18.4 V45.7 H33.3 V18.4 Z"/>
</g>
<line x1="19.7" y1="1223.2" x2="1141.2" y2="1218.1" stroke="#d9d9d9" stroke-width="2"/>
</svg></div>
</div>
<div class="row">
<div class="cell concepto"><span class="t rw" style="left:46.42px;top:1254.30px;font-size:31.6px;transform:scaleX(1.0324);-webkit-text-stroke-width:1.03px;">Jardinería</span></div>
<div class="cell fecha"><span class="t dg" style="left:457.33px;top:1253.88px;font-size:30.8px;transform:scaleX(1.1980);-webkit-text-stroke-width:0.72px;">05</span><span class="t dg" style="left:499.28px;top:1253.88px;font-size:30.8px;transform:scaleX(1.3500);-webkit-text-stroke-width:1.00px;">-</span><span class="t dg" style="left:513.46px;top:1253.88px;font-size:30.8px;transform:scaleX(1.0664);-webkit-text-stroke-width:0.98px;">Dic</span><span class="t dg" style="left:561.88px;top:1253.88px;font-size:30.8px;transform:scaleX(1.3500);-webkit-text-stroke-width:1.00px;">-</span><span class="t dg" style="left:575.94px;top:1253.88px;font-size:30.8px;transform:scaleX(1.1923);-webkit-text-stroke-width:0.72px;">2024</span></div>
<div class="cell importe"><span class="t dg" style="left:742.83px;top:1255.41px;font-size:31.0px;transform:scaleX(1.1133);-webkit-text-stroke-width:0.80px;">$5</span><span class="t dg" style="left:779.89px;top:1255.41px;font-size:31.0px;transform:scaleX(1.3500);-webkit-text-stroke-width:1.00px;">,</span><span class="t dg" style="left:790.38px;top:1255.41px;font-size:31.0px;transform:scaleX(1.1987);-webkit-text-stroke-width:0.72px;">500</span><span class="t dg" style="left:850.97px;top:1255.41px;font-size:31.0px;transform:scaleX(1.3161);-webkit-text-stroke-width:1.00px;">.</span><span class="t dg" style="left:860.87px;top:1255.41px;font-size:31.0px;transform:scaleX(1.2087);-webkit-text-stroke-width:0.72px;">00</span></div>
<div class="cell acciones"><svg class="layer" width="1173" height="1384" viewBox="0 0 1173 1384">
<g class="ico-ver" transform="translate(980.00,1270.00)" fill="#FFC000">
<path d="M-26.7,0 C-17.5,-9.8 -8.8,-15.7 0,-15.7 C8.8,-15.7 17.5,-9.8 26.7,0 C17.5,9.8 8.8,15.7 0,15.7 C-8.8,15.7 -17.5,9.8 -26.7,0 Z" stroke="#FFC000" stroke-width="1.8" stroke-linejoin="round"/>
<path d="M-22.7,0 C-17,-4.8 -9,-11.2 0,-11.2 C9,-11.2 17,-4.8 22.7,0 C17,4.8 9,11.2 0,11.2 C-9,11.2 -17,4.8 -22.7,0 Z" fill="#fff"/>
<circle cx="0" cy="0" r="12.4" fill="none" stroke="#FFC000" stroke-width="2.9"/>
<circle cx="0" cy="0" r="7"/>
</g>
<g class="ico-cancelar" transform="translate(1027.20,1243.50)">
<rect x="2" y="2" width="38" height="51.2" fill="#fff" stroke="#000" stroke-width="4"/>
<rect x="8.1" y="9.8" width="26" height="2.7"/><rect x="8.1" y="15.3" width="26" height="2.7"/><rect x="8.1" y="20.9" width="26" height="2.7"/>
<rect x="21.1" y="26.6" width="13" height="2.4"/><rect x="8.1" y="40.2" width="11.9" height="2.6"/>
<path d="M25.7,37.9 L32.8,45.0 M32.8,37.9 L25.7,45.0" stroke="#000" stroke-width="3.1" fill="none"/>
</g>
<g class="ico-eliminar" transform="translate(1088.00,1243.70)" fill="#C00000">
<path d="M16.9,8.5 V5.2 a1.4,1.4 0 0 1 1.4,-1.4 h6.3 a1.4,1.4 0 0 1 1.4,1.4 V8.5 h3.6 V4.6 a4.3,4.3 0 0 0 -4.3,-4.3 h-7.7 a4.3,4.3 0 0 0 -4.3,4.3 V8.5 Z"/>
<path d="M0,12.3 V9.9 a2.8,2.8 0 0 1 2.8,-2.8 H39.8 a2.8,2.8 0 0 1 2.8,2.8 V12.3 Z"/>
<path fill-rule="evenodd" d="M4,14.9 H38.8 V46.8 a2.8,2.8 0 0 1 -2.8,2.8 H6.8 a2.8,2.8 0 0 1 -2.8,-2.8 Z M9.4,18.4 V45.7 H13.3 V18.4 Z M19.4,18.4 V45.7 H23.3 V18.4 Z M29.4,18.4 V45.7 H33.3 V18.4 Z"/>
</g>
<line x1="19.7" y1="1321.9" x2="1141.2" y2="1317.4" stroke="#d9d9d9" stroke-width="2"/>
</svg></div>
</div>
</div>
</body></html>
